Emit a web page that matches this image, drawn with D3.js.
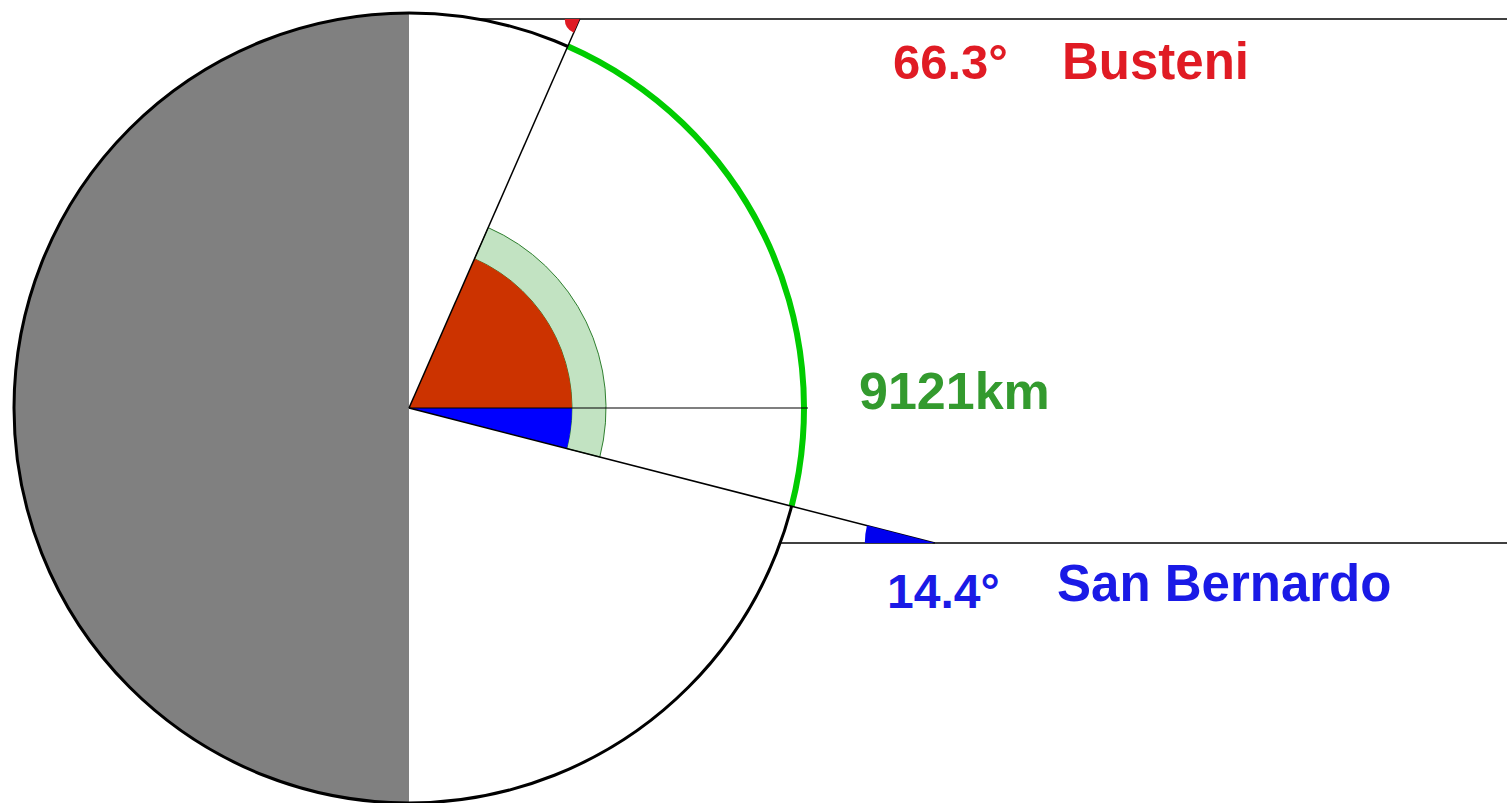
<!DOCTYPE html>
<html>
<head>
<meta charset="utf-8">
<script src="https://cdn.jsdelivr.net/npm/d3@7"></script>
<style>
html,body{margin:0;padding:0;background:#fff;overflow:hidden;}
svg{display:block;}
text{font-family:"Liberation Sans",Arial,sans-serif;font-weight:bold;}
</style>
</head>
<body>
<svg id="chart" width="1507" height="803"></svg>
<script>
// Data
const cities = ["Busteni", "San Bernardo"];
const latitudes = [66.3, -14.4];           // angle from the horizontal (degrees)
const angleLabels = ["66.3°", "14.4°"];
const cityColors = ["#e01b24", "#1a1ae6"];
const sectorColors = ["#cc3300", "#0000ff"];
const distanceLabel = "9121km";

const W = 1507, H = 803;
const cx = 409, cy = 408, R = 395;
const rInner = 163, rRing = 197;
const lineY = [19, 543];   // horizontal reference lines for each city

const svg = d3.select("#chart");
const g = svg.append("g").attr("transform", `translate(${cx},${cy})`);

// scale: math degrees (ccw from east) -> d3 arc radians (cw from north)
const ang = d3.scaleLinear().domain([0, 90]).range([Math.PI / 2, 0]);
const arc = d3.arc();

// grey left half
g.append("path")
  .attr("d", arc({innerRadius: 0, outerRadius: R, startAngle: Math.PI, endAngle: 2 * Math.PI}))
  .attr("fill", "#808080");

// light green ring between the two angles
const aMax = d3.max(latitudes), aMin = d3.min(latitudes);
g.append("path")
  .attr("d", arc({innerRadius: rInner, outerRadius: rRing, startAngle: ang(aMax), endAngle: ang(aMin)}))
  .attr("fill", "#c2e3c2").attr("stroke", "#2f7f2f").attr("stroke-width", 1);

// sectors from horizontal to each angle
latitudes.forEach((a, i) => {
  const s = Math.min(ang(a), ang(0)), e = Math.max(ang(a), ang(0));
  g.append("path")
    .attr("d", arc({innerRadius: 0, outerRadius: rInner, startAngle: s, endAngle: e}))
    .attr("fill", sectorColors[i]);
});

// circle outline
g.append("circle").attr("r", R).attr("fill", "none").attr("stroke", "#000").attr("stroke-width", 3);

// green arc along circumference
g.append("path")
  .attr("d", arc({innerRadius: R - 3, outerRadius: R + 3, startAngle: ang(aMax), endAngle: ang(aMin)}))
  .attr("fill", "#00cc00");

// horizontal line from centre
g.append("line").attr("x1", 0).attr("y1", 0).attr("x2", R + 4).attr("y2", 0)
  .attr("stroke", "#000").attr("stroke-width", 1.2);

// radial lines, horizontal reference lines, angle markers
latitudes.forEach((a, i) => {
  const rad = a * Math.PI / 180;
  const dy = cy - lineY[i];                 // positive if above centre
  const ix = dy / Math.tan(rad);            // intersection x (relative to centre)
  const iy = -dy;
  // radial line
  g.append("line").attr("x1", 0).attr("y1", 0).attr("x2", ix).attr("y2", iy)
    .attr("stroke", "#000").attr("stroke-width", 1.5);
  // horizontal line from circle edge to right edge
  const hx = Math.sqrt(R * R - dy * dy);
  g.append("line").attr("x1", hx).attr("y1", iy).attr("x2", W - cx).attr("y2", iy)
    .attr("stroke", "#000").attr("stroke-width", 1.5);
  // angle marker at the intersection
  const mr = a > 0 ? 15 : 70;
  const towardCentre = 180 + a;             // math angle of direction back to centre
  const s1 = ang(180), s2 = ang(towardCentre);
  g.append("path")
    .attr("transform", `translate(${ix},${iy})`)
    .attr("d", arc({innerRadius: 0, outerRadius: mr, startAngle: Math.min(s1, s2), endAngle: Math.max(s1, s2)}))
    .attr("fill", a > 0 ? "#e01b24" : "#0000ee");
});

// labels
const labelPos = [
  {ax: 893, ay: 79, cx: 1062, cy: 79},
  {ax: 887, ay: 608, cx: 1057, cy: 601}
];
latitudes.forEach((a, i) => {
  svg.append("text").attr("x", labelPos[i].ax).attr("y", labelPos[i].ay)
    .attr("font-size", i === 0 ? 49 : 48).attr("fill", cityColors[i]).text(angleLabels[i]);
  svg.append("text").attr("x", labelPos[i].cx).attr("y", labelPos[i].cy)
    .attr("font-size", 51).attr("fill", cityColors[i]).text(cities[i]);
});
svg.append("text").attr("x", 859).attr("y", 409)
  .attr("font-size", 52).attr("fill", "#339a2e").text(distanceLabel);
</script>
</body>
</html>
